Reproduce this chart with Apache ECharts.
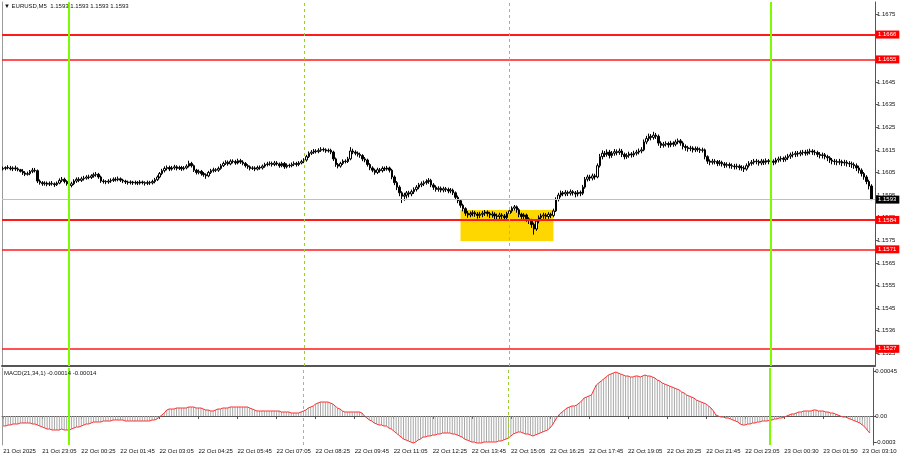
<!DOCTYPE html>
<html><head><meta charset="utf-8">
<script src="https://cdn.jsdelivr.net/npm/echarts@6/dist/echarts.min.js"></script>
<style>html,body{margin:0;padding:0;background:#fff}#c{width:900px;height:460px}</style>
</head><body><div id="c"></div>
<script>
// ---------- DATA ----------
const symbolTitle = '\u25BC EURUSD,M5  1.1593 1.1593 1.1593 1.1593';
const macdTitle = 'MACD(21,34,1) -0.00014 -0.00014';
// time labels, one every 16 bars (M5), first bar = 21 Oct 21:45
const timeLabels = ['21 Oct 2025','21 Oct 23:05','22 Oct 00:25','22 Oct 01:45','22 Oct 03:05','22 Oct 04:25',
  '22 Oct 05:45','22 Oct 07:05','22 Oct 08:25','22 Oct 09:45','22 Oct 11:05','22 Oct 12:25','22 Oct 13:45',
  '22 Oct 15:05','22 Oct 16:25','22 Oct 17:45','22 Oct 19:05','22 Oct 20:25','22 Oct 21:45','22 Oct 23:05',
  '23 Oct 00:30','23 Oct 01:50','23 Oct 03:10'];
const LABEL_STEP = 16;
const BAR_SLOTS = 357;
// price values in points above 1.15000 (1 point = 0.00001); rows: [open, close, low, high]
const candles = [
[1065,1068,1059,1076],[1068,1072,1060,1077],[1072,1070,1064,1082],[1070,1066,1059,1079],[1066,1070,1056,1077],
[1070,1066,1057,1080],[1066,1062,1055,1073],[1062,1055,1050,1066],[1055,1048,1039,1065],[1048,1042,1034,1056],
[1042,1045,1036,1054],[1045,1055,1038,1061],[1055,1060,1047,1070],[1060,1058,1050,1070],[1058,1012,1003,1063],
[1012,1005,996,1019],[1005,1000,991,1012],[1000,1003,992,1011],[1003,998,989,1010],[998,1002,990,1010],
[1002,1000,992,1012],[1000,996,986,1006],[996,1003,990,1010],[1003,1015,998,1024],[1015,1020,1007,1030],
[1020,1010,1002,1027],[1010,1000,992,1016],[1000,992,982,1006],[992,1000,984,1009],[1000,1012,994,1020],
[1012,1020,1004,1028],[1020,1015,1007,1029],[1015,1022,1008,1031],[1022,1025,1014,1035],[1025,1030,1018,1038],
[1030,1028,1020,1040],[1028,1035,1021,1042],[1035,1040,1027,1049],[1040,1042,1031,1052],[1042,1030,1022,1048],
[1030,1012,1004,1036],[1012,1010,1001,1020],[1010,1008,998,1016],[1008,1012,1000,1020],[1012,1015,1004,1024],
[1015,1020,1008,1028],[1020,1018,1010,1029],[1018,1022,1011,1032],[1022,1016,1008,1028],[1016,1012,1003,1022],
[1012,1008,999,1018],[1008,1005,996,1014],[1005,1008,997,1015],[1008,1004,995,1013],[1004,1006,996,1014],
[1006,1003,994,1012],[1003,1008,996,1016],[1008,1005,997,1014],[1005,1002,992,1011],[1002,1006,994,1014],
[1006,1004,995,1013],[1004,1010,997,1018],[1010,1018,1002,1026],[1018,1030,1012,1037],[1030,1045,1024,1052],
[1045,1058,1038,1066],[1058,1068,1050,1077],[1068,1072,1059,1081],[1072,1065,1056,1080],[1065,1070,1058,1079],
[1070,1075,1062,1084],[1075,1068,1059,1082],[1068,1072,1061,1080],[1072,1066,1057,1079],[1066,1070,1059,1078],
[1070,1078,1064,1086],[1078,1090,1072,1102],[1090,1080,1072,1097],[1080,1060,1052,1085],[1060,1050,1041,1066],
[1050,1055,1042,1063],[1055,1045,1036,1061],[1045,1040,1031,1052],[1040,1035,1022,1046],[1035,1050,1029,1057],
[1050,1058,1043,1066],[1058,1062,1050,1071],[1062,1060,1052,1069],[1060,1068,1053,1076],[1068,1080,1062,1088],
[1080,1090,1074,1098],[1090,1095,1083,1104],[1095,1088,1080,1103],[1088,1100,1082,1108],[1100,1098,1090,1108],
[1098,1092,1084,1106],[1092,1102,1086,1111],[1102,1096,1088,1110],[1096,1090,1082,1104],[1090,1080,1072,1096],
[1080,1075,1066,1087],[1075,1068,1059,1081],[1068,1070,1061,1078],[1070,1065,1056,1077],[1065,1072,1059,1080],
[1072,1070,1062,1081],[1070,1078,1063,1085],[1078,1085,1071,1093],[1085,1088,1077,1097],[1088,1090,1080,1099],
[1090,1085,1076,1098],[1085,1092,1078,1101],[1092,1088,1080,1100],[1088,1080,1071,1094],[1080,1090,1073,1097],
[1090,1075,1066,1096],[1075,1082,1068,1090],[1082,1080,1071,1089],[1080,1086,1073,1094],[1086,1090,1078,1099],
[1090,1085,1076,1097],[1085,1092,1078,1100],[1092,1098,1086,1106],[1098,1105,1091,1113],[1105,1120,1098,1128],
[1120,1135,1114,1143],[1135,1140,1127,1149],[1140,1145,1132,1154],[1145,1142,1134,1153],[1142,1148,1135,1157],
[1148,1152,1141,1162],[1152,1150,1142,1160],[1150,1145,1137,1157],[1145,1148,1138,1156],[1148,1140,1131,1155],
[1140,1110,1101,1146],[1110,1085,1075,1116],[1085,1078,1068,1092],[1078,1090,1071,1097],[1090,1100,1083,1108],
[1100,1098,1090,1108],[1098,1110,1092,1119],[1110,1145,1104,1162],[1145,1140,1131,1155],[1140,1135,1126,1148],
[1135,1130,1120,1143],[1130,1125,1115,1138],[1125,1110,1100,1131],[1110,1105,1095,1118],[1105,1085,1076,1111],
[1085,1070,1060,1091],[1070,1060,1051,1077],[1060,1050,1040,1067],[1050,1062,1043,1071],[1062,1058,1049,1070],
[1058,1068,1050,1077],[1068,1065,1056,1076],[1065,1070,1058,1079],[1070,1060,1050,1076],[1060,1030,1020,1066],
[1030,1005,994,1037],[1005,985,972,1012],[985,960,945,993],[960,945,915,967],[945,950,925,960],
[950,960,935,968],[960,955,940,969],[955,965,945,974],[965,975,955,984],[975,985,966,994],
[985,995,976,1004],[995,1000,985,1010],[1000,1005,990,1014],[1005,1010,996,1020],[1010,1015,1000,1025],
[1015,995,985,1022],[995,985,973,1003],[985,975,965,993],[975,980,965,989],[980,972,962,988],
[972,978,962,987],[978,975,964,986],[975,968,958,983],[968,972,958,981],[972,960,950,979],
[960,940,928,966],[940,925,914,948],[925,905,894,931],[905,890,878,912],[890,870,858,896],
[870,862,850,880],[862,868,852,878],[868,872,856,882],[872,866,854,880],[866,860,846,875],
[860,865,848,876],[865,870,852,880],[870,875,858,884],[875,868,855,882],[868,862,848,876],
[862,866,850,878],[866,858,844,874],[858,855,840,868],[855,862,842,872],[862,858,843,870],
[858,850,836,866],[850,868,842,876],[868,880,858,890],[880,892,872,900],[892,898,882,906],
[898,885,872,904],[885,865,852,892],[865,855,842,872],[855,862,844,870],[862,845,832,868],
[845,838,822,852],[838,820,805,845],[820,800,775,828],[800,835,792,842],[835,850,825,860],
[850,858,838,868],[858,862,845,872],[862,855,842,870],[855,865,845,874],[865,860,848,872],
[860,880,852,890],[880,930,875,940],[930,950,922,960],[950,960,940,970],[960,955,945,968],
[955,962,945,972],[962,958,946,970],[958,965,948,975],[965,960,948,972],[960,955,940,968],
[955,962,944,972],[962,958,945,970],[958,985,950,995],[985,1020,978,1030],[1020,1030,1010,1040],
[1030,1025,1012,1040],[1025,1035,1015,1045],[1035,1030,1018,1044],[1030,1080,1024,1090],[1080,1120,1072,1132],
[1120,1135,1108,1148],[1135,1130,1118,1145],[1130,1140,1120,1152],[1140,1125,1112,1150],[1125,1135,1115,1145],
[1135,1142,1124,1154],[1142,1138,1126,1152],[1138,1145,1128,1156],[1145,1130,1118,1154],[1130,1120,1108,1138],
[1120,1125,1110,1135],[1125,1132,1115,1142],[1132,1128,1116,1140],[1128,1135,1118,1146],[1135,1140,1125,1150],
[1140,1145,1130,1156],[1145,1150,1135,1162],[1150,1185,1144,1196],[1185,1200,1175,1212],[1200,1210,1190,1222],
[1210,1205,1192,1220],[1205,1215,1195,1230],[1215,1210,1198,1225],[1210,1180,1168,1218],[1180,1170,1158,1188],
[1170,1175,1160,1185],[1175,1178,1165,1188],[1178,1172,1160,1186],[1172,1180,1162,1190],[1180,1175,1164,1188],
[1175,1185,1166,1195],[1185,1190,1175,1200],[1190,1180,1168,1198],[1180,1165,1152,1188],[1165,1160,1146,1174],
[1160,1155,1142,1168],[1155,1158,1144,1168],[1158,1150,1138,1166],[1150,1155,1140,1165],[1155,1152,1142,1164],
[1152,1148,1136,1160],[1148,1150,1138,1160],[1150,1120,1108,1156],[1120,1100,1088,1126],[1100,1095,1082,1108],
[1095,1100,1085,1110],[1100,1098,1086,1109],[1098,1090,1078,1105],[1090,1095,1080,1105],[1095,1088,1076,1102],
[1088,1082,1070,1096],[1082,1085,1072,1095],[1085,1080,1068,1094],[1080,1078,1066,1090],[1078,1075,1063,1088],
[1075,1078,1064,1089],[1078,1072,1060,1086],[1072,1070,1058,1082],[1070,1065,1052,1080],[1065,1080,1058,1090],
[1080,1090,1072,1100],[1090,1095,1080,1105],[1095,1100,1085,1110],[1100,1098,1086,1110],[1098,1092,1080,1106],
[1092,1100,1082,1110],[1100,1095,1083,1108],[1095,1102,1085,1112],[1102,1098,1086,1110],[1098,1100,1086,1110],
[1100,1095,1082,1108],[1095,1105,1086,1115],[1105,1110,1094,1120],[1110,1112,1098,1122],[1112,1108,1096,1120],
[1108,1115,1098,1125],[1115,1122,1105,1132],[1122,1128,1110,1138],[1128,1130,1116,1142],[1130,1135,1118,1145],
[1135,1132,1120,1145],[1132,1138,1122,1148],[1138,1140,1126,1150],[1140,1135,1124,1150],[1135,1142,1126,1152],
[1142,1145,1130,1155],[1145,1140,1128,1153],[1140,1138,1126,1150],[1138,1130,1118,1146],[1130,1125,1112,1140],
[1125,1128,1112,1138],[1128,1120,1108,1136],[1120,1115,1100,1128],[1115,1105,1092,1122],[1105,1100,1086,1114],
[1100,1098,1084,1110],[1098,1095,1082,1108],[1095,1098,1084,1110],[1098,1092,1078,1106],[1092,1095,1080,1106],
[1095,1090,1076,1104],[1090,1088,1074,1100],[1088,1085,1070,1098],[1085,1080,1066,1094],[1080,1070,1056,1090],
[1070,1060,1046,1080],[1060,1045,1032,1068],[1045,1030,1018,1052],[1030,1010,998,1038],[1010,990,975,1018],
[990,930,928,998]
];
// MACD(21,34,1) main value per bar, in units of 0.00001
const macdValues = [
-10,-10,-9,-9,-8,-8,-8,-7,-7,-7,
-7,-7,-8,-8,-9,-10,-11,-12,-13,-13,
-14,-14,-14,-14,-13,-14,-14,-14,-13,-12,
-11,-11,-10,-9,-8,-8,-7,-6,-6,-6,
-6,-5,-5,-5,-5,-4,-4,-4,-4,-4,
-5,-5,-5,-5,-5,-5,-5,-5,-5,-5,
-5,-4,-4,-3,-1,1,3,6,7,7,
7,8,8,8,8,8,9,9,9,8,
8,8,7,6,6,5,5,6,7,7,
8,8,8,9,9,9,9,9,9,9,
9,8,7,6,5,5,5,5,5,5,
5,5,5,5,4,4,4,4,3,3,
3,3,4,5,6,8,9,10,12,13,
14,14,14,14,13,12,10,8,7,5,
4,4,4,4,4,4,4,3,0,-2,
-4,-5,-7,-8,-9,-9,-10,-10,-12,-13,
-15,-17,-19,-21,-23,-24,-25,-26,-27,-26,
-24,-23,-21,-21,-20,-20,-19,-19,-18,-18,
-17,-17,-17,-17,-18,-18,-19,-20,-21,-23,
-24,-25,-26,-26,-27,-27,-27,-26,-26,-26,
-26,-26,-26,-25,-25,-24,-23,-22,-20,-18,
-17,-16,-16,-17,-18,-18,-19,-20,-19,-18,
-17,-16,-15,-14,-12,-9,-5,-1,2,4,
6,8,9,10,10,11,13,15,18,19,
20,21,26,31,33,35,37,39,41,42,
43,44,43,42,41,40,40,39,39,40,
40,39,40,41,40,40,39,38,36,35,
33,32,31,30,29,28,27,26,24,23,
21,20,19,18,16,15,14,13,12,10,
8,5,1,0,-1,-1,-2,-2,-3,-4,
-5,-6,-8,-9,-9,-8,-8,-7,-7,-6,
-6,-5,-5,-5,-4,-4,-3,-3,-2,-2,
-1,0,1,2,2,3,4,4,5,5,
5,5,6,6,5,5,5,4,4,3,
3,2,1,0,-1,-1,-2,-3,-4,-5,
-6,-7,-9,-11,-14,-17
];
// price axis ticks (points above 1.15) and their printed labels
const priceTicks = [250,350,450,550,650,750,850,950,1050,1150,1250,1350,1450,1550,1650,1750];
const priceTickLabels = ['1.1525','1.1536','1.1545','1.1555','1.1565','1.1575','1.1585','1.1595',
  '1.1605','1.1615','1.1625','1.1635','1.1645','1.1655','1.1665','1.1675'];
const priceRange = [194, 1804];
// horizontal levels (points above 1.15)
const levelValues = [1660, 1550, 840, 710, 270];
const levelLabels = ['1.1666','1.1655','1.1584','1.1571','1.1527'];
const levelWidths = [2, 1.5, 2, 1.5, 1.5];
const bidValue = 930, bidLabel = '1.1593';
// MACD axis (units of 0.00001)
const macdTicks = [-26, 0, 45];
const macdTickLabels = ['-0.0003', '0.00', '0.00045'];
const macdRange = [-29, 48];
// vertical markers (bar index)
const dayStartBars = [27, 314];
const sessionBars = [123, 207];
// highlighted zone
const zoneBars = [187, 225];
const zonePrices = [747, 884];

// ---------- CHART ----------
const FONT = 'Liberation Sans';
const categories = Array.from({length: BAR_SLOTS}, (_, i) => i);
const chart = echarts.init(document.getElementById('c'), null, {renderer: 'canvas'});

const tickFmt = (ticks, labels) => v => { const k = ticks.indexOf(Math.round(v)); return k >= 0 ? labels[k] : ''; };

const vLines = dayStartBars.map(b => ({xAxis: b, lineStyle: {color: '#7cfc00', width: 2, type: 'solid'}}))
  .concat(sessionBars.map(b => ({xAxis: b, lineStyle: {color: '#9acd32', width: 1, type: [3, 3]}})));

const boxLabel = (bg) => ({
  show: true, position: 'end', distance: 1, color: '#fff', backgroundColor: bg,
  fontFamily: FONT, fontSize: 6, padding: [1, 3, 0, 2], lineHeight: 7
});

const hLines = levelValues.map((v, k) => ({
  yAxis: v, lineStyle: {color: '#ff1a1a', width: levelWidths[k], type: 'solid', opacity: 1},
  label: Object.assign(boxLabel('#ff0000'), {formatter: levelLabels[k]})
}));
hLines.push({yAxis: bidValue, lineStyle: {color: '#c0c0c0', width: 1, type: 'solid', opacity: 1},
  label: Object.assign(boxLabel('#000000'), {formatter: bidLabel})});

const axisText = {fontFamily: FONT, fontSize: 6, color: '#111'};

chart.setOption({
  animation: false,
  backgroundColor: '#ffffff',
  grid: [
    {left: 2, right: 25, top: 2, height: 364},
    {left: 2, right: 25, top: 368, height: 77}
  ],
  xAxis: [
    {type: 'category', gridIndex: 0, data: categories, boundaryGap: true,
      axisLine: {show: true, lineStyle: {color: '#555', width: 2}},
      axisTick: {show: false}, axisLabel: {show: false}, splitLine: {show: false}},
    {type: 'category', gridIndex: 1, data: categories, boundaryGap: true,
      axisLine: {show: true, lineStyle: {color: '#555', width: 1}},
      axisTick: {show: true, alignWithLabel: true, length: 3, lineStyle: {color: '#555'},
        interval: i => i % LABEL_STEP === 0 && i / LABEL_STEP < timeLabels.length},
      axisLabel: Object.assign({}, axisText, {align: 'left', margin: 3,
        interval: i => i % LABEL_STEP === 0 && i / LABEL_STEP < timeLabels.length,
        formatter: (v, i) => timeLabels[i / LABEL_STEP] || ''}),
      splitLine: {show: false}}
  ],
  yAxis: [
    {type: 'value', gridIndex: 0, position: 'right', min: priceRange[0], max: priceRange[1],
      axisLine: {show: true, lineStyle: {color: '#555'}},
      axisTick: {show: true, length: 3, lineStyle: {color: '#555'}, customValues: priceTicks},
      axisLabel: Object.assign({}, axisText, {margin: 2, customValues: priceTicks, formatter: tickFmt(priceTicks, priceTickLabels)}),
      splitLine: {show: false}},
    {type: 'value', gridIndex: 1, position: 'right', min: macdRange[0], max: macdRange[1],
      axisLine: {show: true, lineStyle: {color: '#555'}},
      axisTick: {show: true, length: 3, lineStyle: {color: '#555'}, customValues: macdTicks},
      axisLabel: Object.assign({}, axisText, {margin: 2, customValues: macdTicks, formatter: tickFmt(macdTicks, macdTickLabels)}),
      splitLine: {show: false}},
    {type: 'value', gridIndex: 0, position: 'left', min: 0, max: 1,
      axisLine: {show: true, lineStyle: {color: '#9a9a9a'}}, axisTick: {show: false}, axisLabel: {show: false}, splitLine: {show: false}},
    {type: 'value', gridIndex: 1, position: 'left', min: 0, max: 1,
      axisLine: {show: true, lineStyle: {color: '#9a9a9a'}}, axisTick: {show: false}, axisLabel: {show: false}, splitLine: {show: false}}
  ],
  graphic: [
    {type: 'text', left: 4, top: 3, z: 10, style: {text: symbolTitle, font: '6px "Liberation Sans"', fill: '#111'}},
    {type: 'text', left: 4, top: 370, z: 10, style: {text: macdTitle, font: '6px "Liberation Sans"', fill: '#111'}}
  ],
  series: [
    {type: 'line', xAxisIndex: 0, yAxisIndex: 0, data: [], z: 1, silent: true, color: '#ff0000',
      markArea: {silent: true, itemStyle: {color: '#ffd700', opacity: 1},
        data: [[{xAxis: zoneBars[0], yAxis: zonePrices[0]}, {xAxis: zoneBars[1], yAxis: zonePrices[1]}]]}},
    {type: 'line', xAxisIndex: 0, yAxisIndex: 0, data: [], z: 4, silent: true, color: '#ff0000',
      markLine: {silent: true, symbol: ['none', 'none'], animation: false, label: {show: false},
        data: hLines.concat(vLines)}},
    {type: 'candlestick', xAxisIndex: 0, yAxisIndex: 0, z: 3,
      data: candles, barWidth: 2,
      itemStyle: {color: '#ffffff', color0: '#000', borderColor: '#000', borderColor0: '#000', borderWidth: 1}},
    {type: 'bar', xAxisIndex: 1, yAxisIndex: 1, data: macdValues, barWidth: 1,
      itemStyle: {color: '#a8a8a8'}, z: 2,
      markLine: {silent: true, symbol: ['none', 'none'], animation: false, label: {show: false},
        data: vLines}},
    {type: 'line', xAxisIndex: 1, yAxisIndex: 1, data: macdValues, symbol: 'none', z: 3,
      lineStyle: {color: '#ff3030', width: 1}}
  ]
});
</script></body></html>
